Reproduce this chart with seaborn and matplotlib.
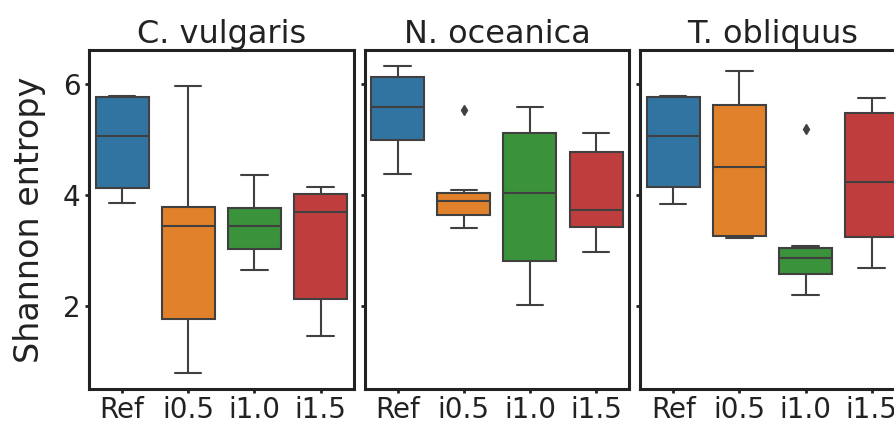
import pandas as pd
import matplotlib
matplotlib.use("Agg")
import matplotlib.pyplot as plt
import seaborn as sns

SPECIES = ["C. vulgaris", "N. oceanica", "T. obliquus"]
GROUPS = ["Ref", "i0.5", "i1.0", "i1.5"]

# Shannon entropy per sample
cv_ref = [3.85, 4.13, 5.07, 5.77, 5.80]
cv_i05 = [0.78, 1.77, 3.44, 3.78, 5.98]
cv_i10 = [2.64, 3.03, 3.44, 3.76, 4.36]
cv_i15 = [1.46, 2.12, 3.70, 4.03, 4.15]

no_ref = [4.39, 4.99, 5.59, 6.14, 6.33]
no_i05 = [3.40, 3.52, 3.64, 3.77, 3.89, 3.97, 4.04, 4.10, 5.53]
no_i10 = [2.02, 2.81, 4.04, 5.12, 5.59]
no_i15 = [2.97, 3.42, 3.73, 4.78, 5.12]

to_ref = [3.84, 4.14, 5.07, 5.78, 5.79]
to_i05 = [3.22, 3.27, 4.51, 5.62, 6.25]
to_i10 = [2.20, 2.40, 2.57, 2.72, 2.86, 2.95, 3.04, 3.08, 5.20]
to_i15 = [2.68, 3.24, 4.24, 5.49, 5.75]

values = {
    "C. vulgaris": [cv_ref, cv_i05, cv_i10, cv_i15],
    "N. oceanica": [no_ref, no_i05, no_i10, no_i15],
    "T. obliquus": [to_ref, to_i05, to_i10, to_i15],
}


def build_frame():
    rows = []
    for sp in SPECIES:
        for grp, vals in zip(GROUPS, values[sp]):
            for v in vals:
                rows.append({"species": sp, "group": grp, "entropy": v})
    return pd.DataFrame(rows)


def plot_entropy(df):
    sns.set_style("ticks")
    plt.rcParams["font.family"] = ["DejaVu Sans"]
    fig, axes = plt.subplots(1, 3, figsize=(8.94, 4.21), dpi=100, sharey=True)
    fig.subplots_adjust(left=0.0996, right=1.012, bottom=0.076, top=0.881, wspace=0.0415)

    for ax, sp in zip(axes, SPECIES):
        sns.boxplot(data=df[df["species"] == sp], x="group", y="entropy", hue="group",
                    order=GROUPS, hue_order=GROUPS, palette="tab10", ax=ax,
                    linewidth=1.5, linecolor=".25", legend=False,
                    flierprops={"marker": "d", "markersize": 5,
                                "markerfacecolor": ".25", "markeredgecolor": ".25"})
        ax.set_title(sp, fontsize=23, color="#222222", pad=5)
        ax.set_xlabel("")
        ax.set_ylabel("")
        for s in ax.spines.values():
            s.set_visible(True)
            s.set_linewidth(2.2)
            s.set_color("#222222")
        ax.tick_params(labelsize=20, length=3, width=2, pad=3, colors="#222222")
        ax.tick_params(axis="x", pad=2)

    axes[0].set_ylabel("Shannon entropy", fontsize=24, color="#222222", labelpad=12)
    axes[0].set_yticks([2, 4, 6])
    axes[0].set_ylim(0.5, 6.62)
    fig.savefig("out.png", dpi=100)


def main():
    df = build_frame()
    plot_entropy(df)


if __name__ == "__main__":
    main()
